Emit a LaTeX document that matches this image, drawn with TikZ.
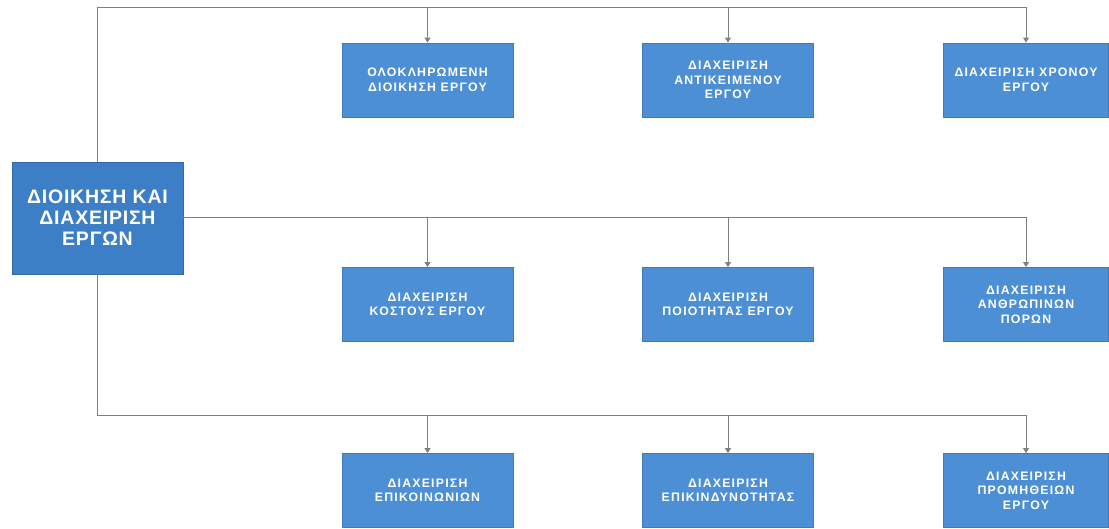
\documentclass[tikz,border=0pt]{standalone}
\usepackage{fontspec}
\setmainfont{Liberation Sans}
\newfontfamily\smallboxfont{Liberation Sans}[LetterSpace=10]
\newfontfamily\mainboxfont{Liberation Sans}[LetterSpace=4]
\usetikzlibrary{arrows.meta}
\definecolor{boxblue}{RGB}{76,143,213}
\definecolor{boxedge}{RGB}{62,122,188}
\definecolor{mainblue}{RGB}{60,127,198}
\definecolor{mainedge}{RGB}{48,106,170}
\definecolor{linegrey}{RGB}{128,128,128}
\tikzset{
  subbox/.style={draw=boxedge, fill=boxblue, line width=0.8pt, minimum width=171pt, minimum height=74pt,
    inner sep=2pt, align=center, text=white, font=\smallboxfont\bfseries\fontsize{12.3}{14.5}\selectfont},
  mainbox/.style={draw=mainedge, fill=mainblue, line width=0.8pt, minimum width=171pt, minimum height=112pt,
    inner sep=2pt, align=center, text=white, font=\mainboxfont\bfseries\fontsize{19.5}{21}\selectfont},
  conn/.style={draw=linegrey, line width=1pt},
  arr/.style={conn, -{Triangle[width=6pt,length=5pt]}}
}
\begin{document}
\begin{tikzpicture}[x=1pt,y=-1pt]
\useasboundingbox (0,0) rectangle (1109,529);
\node[mainbox] (main) at (97.5,218) {ΔΙΟΙΚΗΣΗ ΚΑΙ\\ΔΙΑΧΕΙΡΙΣΗ\\ΕΡΓΩΝ};

\node[subbox] (r1c1) at (427.5,80) {ΟΛΟΚΛΗΡΩΜΕΝΗ\\ΔΙΟΙΚΗΣΗ ΕΡΓΟΥ};
\node[subbox] (r1c2) at (728,80) {ΔΙΑΧΕΙΡΙΣΗ\\ΑΝΤΙΚΕΙΜΕΝΟΥ\\ΕΡΓΟΥ};
\node[subbox, minimum width=165pt] (r1c3) at (1026,80) {ΔΙΑΧΕΙΡΙΣΗ ΧΡΟΝΟΥ\\ΕΡΓΟΥ};

\node[subbox] (r2c1) at (427.5,304.5) {ΔΙΑΧΕΙΡΙΣΗ\\ΚΟΣΤΟΥΣ ΕΡΓΟΥ};
\node[subbox] (r2c2) at (728,304.5) {ΔΙΑΧΕΙΡΙΣΗ\\ΠΟΙΟΤΗΤΑΣ ΕΡΓΟΥ};
\node[subbox, minimum width=165pt] (r2c3) at (1026,304.5) {ΔΙΑΧΕΙΡΙΣΗ\\ΑΝΘΡΩΠΙΝΩΝ\\ΠΟΡΩΝ};

\node[subbox] (r3c1) at (427.5,490.5) {ΔΙΑΧΕΙΡΙΣΗ\\ΕΠΙΚΟΙΝΩΝΙΩΝ};
\node[subbox] (r3c2) at (728,490.5) {ΔΙΑΧΕΙΡΙΣΗ\\ΕΠΙΚΙΝΔΥΝΟΤΗΤΑΣ};
\node[subbox, minimum width=165pt] (r3c3) at (1026,490.5) {ΔΙΑΧΕΙΡΙΣΗ\\ΠΡΟΜΗΘΕΙΩΝ\\ΕΡΓΟΥ};

\coordinate (topy) at (0,8);
\coordinate (boty) at (0,415);

% top branch
\draw[arr] (main.north) -- (main.north |- topy) -| (r1c3.north);
\draw[arr] (r1c1.north |- topy) -- (r1c1.north);
\draw[arr] (r1c2.north |- topy) -- (r1c2.north);

% middle branch
\draw[arr] (main.east) -| (r2c3.north);
\draw[arr] (r2c1.north |- main.east) -- (r2c1.north);
\draw[arr] (r2c2.north |- main.east) -- (r2c2.north);

% bottom branch
\draw[arr] (main.south) -- (main.south |- boty) -| (r3c3.north);
\draw[arr] (r3c1.north |- boty) -- (r3c1.north);
\draw[arr] (r3c2.north |- boty) -- (r3c2.north);
\end{tikzpicture}
\end{document}
